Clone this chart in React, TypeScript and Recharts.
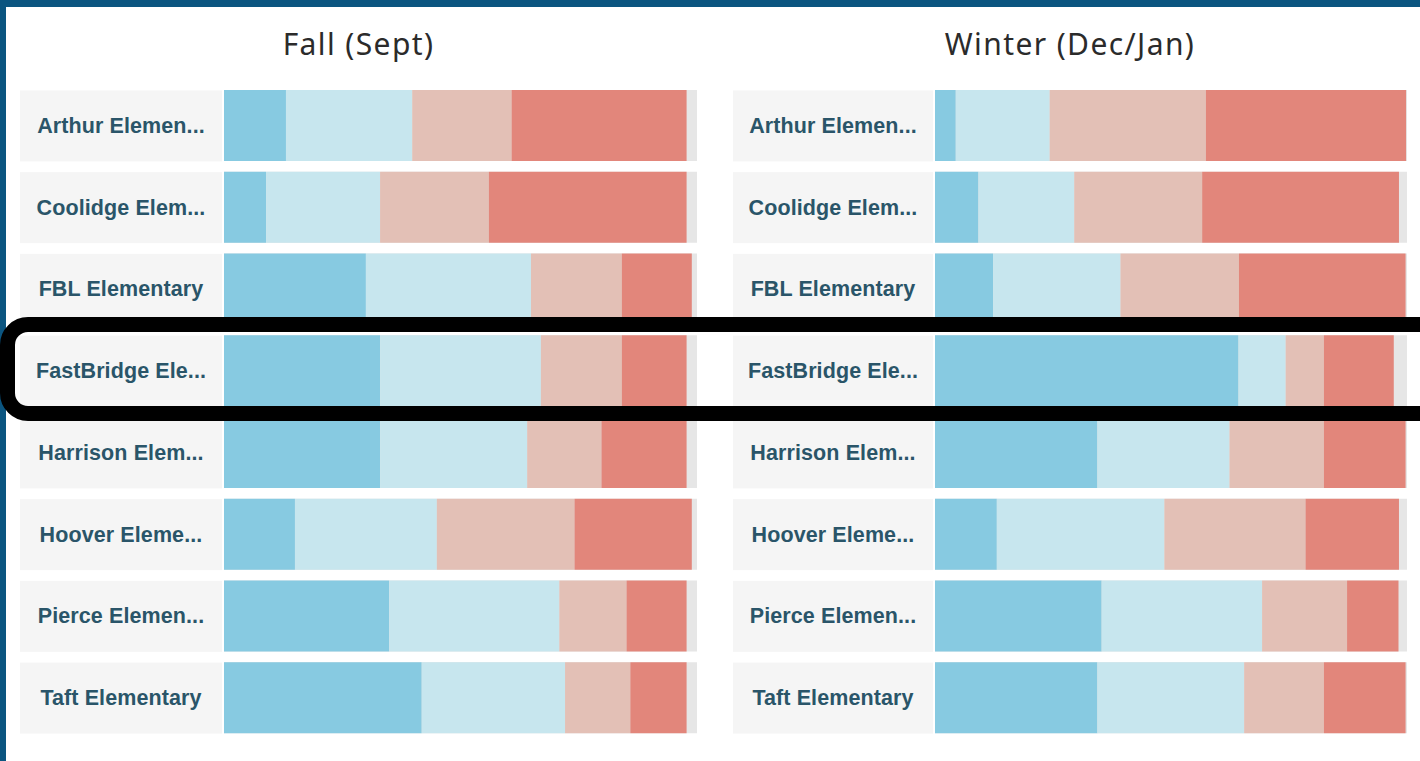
import React from 'react';
import { BarChart, Bar, XAxis, YAxis } from 'recharts';

// Row labels as shown (already truncated in the original dashboard)
const schools = [
  'Arthur Elemen...',
  'Coolidge Elem...',
  'FBL Elementary',
  'FastBridge Ele...',
  'Harrison Elem...',
  'Hoover Eleme...',
  'Pierce Elemen...',
  'Taft Elementary',
];

// Fall (Sept) – percent of students per risk band
const fallAdvanced = [13.1, 8.9, 30.0, 33.0, 33.0, 15.0, 34.9, 41.8];
const fallLowRisk = [26.7, 24.1, 34.9, 34.0, 31.1, 30.0, 36.0, 30.3];
const fallSomeRisk = [21.0, 23.0, 19.2, 17.1, 15.7, 29.1, 14.2, 13.8];
const fallHighRisk = [37.0, 41.8, 14.8, 13.7, 18.0, 24.8, 12.7, 11.9];

// Winter (Dec/Jan)
const winterAdvanced = [4.4, 9.2, 12.3, 64.3, 34.4, 13.1, 35.3, 34.4];
const winterLowRisk = [19.9, 20.3, 27.0, 10.0, 28.0, 35.5, 34.0, 31.1];
const winterSomeRisk = [33.1, 27.1, 25.1, 8.1, 20.0, 29.9, 18.0, 16.9];
const winterHighRisk = [42.4, 41.7, 35.3, 14.8, 17.3, 19.8, 10.9, 17.3];

const COLORS = {
  advanced: '#87cae1',
  lowRisk: '#c7e6ee',
  someRisk: '#e3c0b6',
  highRisk: '#e2867b',
  track: '#e6e6e6',
  labelBg: '#f5f5f5',
  labelText: '#2a5569',
};

const ROW_H = 71;

function buildRows(a: number[], l: number[], s: number[], h: number[]) {
  return schools.map((name, i) => ({
    name,
    advanced: a[i],
    lowRisk: l[i],
    someRisk: s[i],
    highRisk: h[i],
  }));
}

function LabelTick(props: any) {
  const { y, payload, boxWidth } = props;
  return (
    <g>
      <rect x={0} y={y - ROW_H / 2} width={boxWidth} height={ROW_H} fill={COLORS.labelBg} />
      <text
        x={boxWidth / 2}
        y={y}
        textAnchor="middle"
        dominantBaseline="central"
        fill={COLORS.labelText}
        style={{ fontFamily: 'Liberation Sans, Arial, sans-serif', fontWeight: 700, fontSize: 21.5, letterSpacing: 0.1 }}
      >
        {payload.value}
      </text>
    </g>
  );
}

interface PanelProps {
  data: ReturnType<typeof buildRows>;
  width: number;
  axisWidth: number;
  boxWidth: number;
}

function Panel({ data, width, axisWidth, boxWidth }: PanelProps) {
  return (
    <BarChart
      width={width}
      height={654}
      data={data}
      layout="vertical"
      margin={{ top: 0, right: 0, bottom: 0, left: 0 }}
      barSize={ROW_H}
    >
      <XAxis type="number" domain={[0, 100]} hide />
      <YAxis
        type="category"
        dataKey="name"
        width={axisWidth}
        axisLine={false}
        tickLine={false}
        tick={(p: any) => <LabelTick {...p} boxWidth={boxWidth} />}
      />
      <Bar dataKey="advanced" stackId="s" fill={COLORS.advanced} background={{ fill: COLORS.track }} isAnimationActive={false} />
      <Bar dataKey="lowRisk" stackId="s" fill={COLORS.lowRisk} isAnimationActive={false} />
      <Bar dataKey="someRisk" stackId="s" fill={COLORS.someRisk} isAnimationActive={false} />
      <Bar dataKey="highRisk" stackId="s" fill={COLORS.highRisk} isAnimationActive={false} />
    </BarChart>
  );
}

const titleStyle: React.CSSProperties = {
  position: 'absolute',
  top: 24,
  height: 40,
  lineHeight: '40px',
  textAlign: 'center',
  fontFamily: "'Noto Sans', sans-serif",
  fontSize: 30,
  letterSpacing: 1.4,
  color: '#2b2b2b',
};

export default function App() {
  const fall = buildRows(fallAdvanced, fallLowRisk, fallSomeRisk, fallHighRisk);
  const winter = buildRows(winterAdvanced, winterLowRisk, winterSomeRisk, winterHighRisk);

  return (
    <div
      style={{
        position: 'absolute',
        left: 0,
        top: 0,
        width: 1420,
        height: 761,
        overflow: 'hidden',
        background: '#ffffff',
      }}
    >
      {/* frame edges */}
      <div style={{ position: 'absolute', left: 0, top: 0, width: 1420, height: 7, background: '#0b5580' }} />
      <div style={{ position: 'absolute', left: 0, top: 0, width: 6, height: 761, background: '#0b5580' }} />

      <div style={{ ...titleStyle, left: 20, width: 677 }}>Fall (Sept)</div>
      <div style={{ ...titleStyle, left: 733, width: 674 }}>Winter (Dec/Jan)</div>

      <div style={{ position: 'absolute', left: 20, top: 85 }}>
        <Panel data={fall} width={677} axisWidth={204} boxWidth={202} />
      </div>
      <div style={{ position: 'absolute', left: 733, top: 85 }}>
        <Panel data={winter} width={674} axisWidth={202} boxWidth={200} />
      </div>

      {/* highlight around FastBridge row */}
      <div
        style={{
          position: 'absolute',
          left: 0,
          top: 317,
          width: 1460,
          height: 104,
          boxSizing: 'border-box',
          border: '15px solid #000',
          borderRadius: 28,
        }}
      />
    </div>
  );
}
